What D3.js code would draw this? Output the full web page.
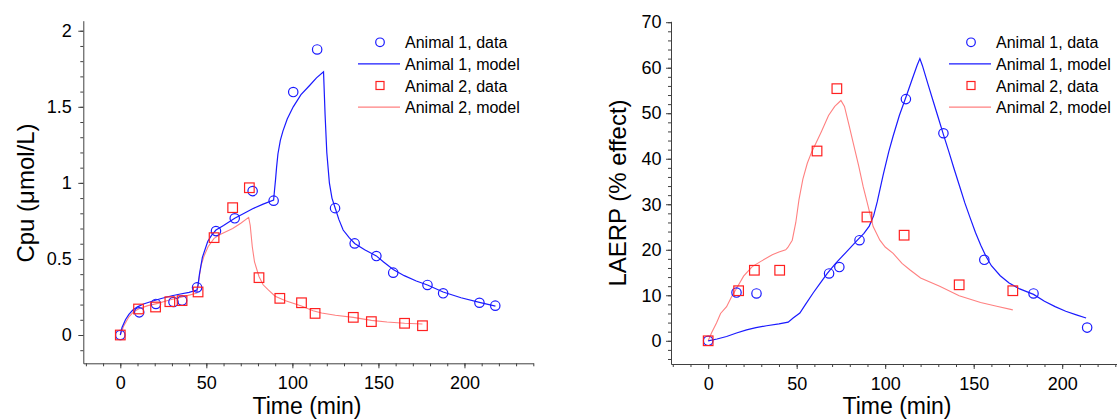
<!DOCTYPE html>
<html>
<head>
<meta charset="utf-8">
<script src="https://cdn.jsdelivr.net/npm/d3@7"></script>
<style>
  html, body { margin: 0; padding: 0; background: #fff; }
  svg { display: block; font-family: "Liberation Sans", Arial, sans-serif; }
</style>
</head>
<body>
<div id="chart"></div>
<script>
// -------------------------------------
// Cpu and LAERP vs time, two animals
// data points + model curves
// -------------------------------------

const timeTicks  = [0, 50, 100, 150, 200];
const timeMinor  = d3.range(-20, 241, 10);
const cpuTicks   = [0, 0.5, 1, 1.5, 2];
const cpuMinor   = d3.range(-0.1, 2.05, 0.1);
const laerpTicks = [0, 10, 20, 30, 40, 50, 60, 70];
const laerpMinor = d3.range(-4, 70.1, 2);

const legendLabels = ["Animal 1, data", "Animal 1, model", "Animal 2, data", "Animal 2, model"];

// Cpu (µmol/L) — animal 1
const cpuData1 = [
  [0, 0], [11, 0.149], [20.7, 0.204], [30.9, 0.217], [35.9, 0.226], [44.6, 0.313],
  [55.6, 0.683], [66.5, 0.767], [76.9, 0.946], [89.1, 0.883], [100.5, 1.597],
  [114.4, 1.877], [124.8, 0.834], [136.2, 0.602], [148.8, 0.519], [158.6, 0.41],
  [178.5, 0.329], [187.6, 0.274], [208.7, 0.212], [217.9, 0.193]
];
const cpuModel1 = [
  [0, 0], [1, 0.05], [3, 0.1], [5, 0.135], [7.3, 0.164], [10, 0.185], [13.5, 0.204],
  [18, 0.22], [23.8, 0.24], [30, 0.258], [34.2, 0.268], [40, 0.28], [44.5, 0.296],
  [45.2, 0.33], [46, 0.4], [47.7, 0.51], [50.8, 0.615], [53, 0.655], [55.6, 0.69],
  [60, 0.72], [66.5, 0.767], [72, 0.8], [76.9, 0.83], [83, 0.86], [89.1, 0.887],
  [89.6, 0.95], [90.2, 1.02], [90.8, 1.1], [91.6, 1.19], [93, 1.28], [94.5, 1.34],
  [97, 1.42], [100.5, 1.5], [105, 1.58], [110, 1.64], [114, 1.69], [118.1, 1.73],
  [119, 1.45], [120, 1.2], [121.5, 1.0], [123, 0.9], [125, 0.83], [127, 0.76],
  [129.5, 0.69], [133, 0.64], [136.2, 0.602], [142, 0.56], [148.8, 0.52], [153, 0.48],
  [158.6, 0.43], [165, 0.39], [172, 0.355], [178.5, 0.329], [187.6, 0.283],
  [198, 0.245], [208.7, 0.215], [218, 0.19]
];

// Cpu (µmol/L) — animal 2
const cpuData2 = [
  [0, 0], [10.6, 0.171], [20.5, 0.184], [28.8, 0.219], [35.9, 0.226], [45.2, 0.283],
  [54.5, 0.64], [65.3, 0.837], [75, 0.968], [80.6, 0.377], [92.7, 0.241],
  [105.3, 0.212], [113.2, 0.142], [135.4, 0.116], [145.9, 0.088], [165.2, 0.077],
  [175.6, 0.061]
];
const cpuModel2 = [
  [0, 0], [2, 0.06], [5, 0.12], [8, 0.155], [11.4, 0.175], [16, 0.193], [21.8, 0.208],
  [28, 0.228], [34.2, 0.245], [40, 0.262], [44.5, 0.275], [45.6, 0.36], [47, 0.46],
  [48.7, 0.52], [51, 0.58], [54.5, 0.635], [58, 0.66], [65.3, 0.7], [70, 0.735],
  [74.6, 0.773], [75.5, 0.72], [76.7, 0.58], [78, 0.48], [80.6, 0.385], [83, 0.33],
  [86, 0.296], [90, 0.255], [96, 0.225], [105.3, 0.19], [112, 0.16], [117, 0.145],
  [125, 0.13], [135.4, 0.116], [145.9, 0.096], [155, 0.085], [165.2, 0.077],
  [175.6, 0.072]
];

// LAERP (% effect) — animal 1
const laerpData1 = [
  [0, 0], [16, 10.6], [27.3, 10.4], [68.3, 14.8], [74.1, 16.2], [85.5, 22.1],
  [111.7, 53.1], [132.9, 45.6], [156, 17.8], [183.8, 10.4], [214.1, 2.9]
];
const laerpModel1 = [
  [0, 0], [5, 0.4], [10.4, 0.95], [16, 1.7], [21.7, 2.4], [27, 2.9], [33, 3.3],
  [40, 3.7], [45.2, 4.1], [48, 5.0], [51.8, 6.1], [55, 8], [59.3, 10.5], [63, 12.5],
  [67.3, 14.8], [72, 17], [78, 19.5], [84.3, 22.1], [88, 23.6], [91, 25.2],
  [93.5, 27.5], [95.5, 30.5], [98.9, 36.5], [102, 41.5], [104.5, 45], [108, 49.5],
  [111.5, 53.3], [115, 57.2], [118, 60.5], [119.6, 62], [121, 60.5], [124, 56.6],
  [127, 52.8], [130, 49], [133, 45.2], [136, 41.5], [139, 37.7], [142, 34],
  [145, 30.3], [148, 27], [151, 23.8], [154, 21], [157, 18.5], [160, 16.5],
  [165, 14.3], [170, 12.7], [176, 11.4], [183.8, 10.2], [190, 8.7], [196, 7.5],
  [202, 6.5], [208, 5.7], [213.5, 5.0]
];

// LAERP (% effect) — animal 2
const laerpData2 = [
  [0, 0], [17.2, 11.0], [26.1, 15.5], [40.4, 15.5], [61.5, 41.7], [72.7, 55.4],
  [89.7, 27.2], [110.7, 23.2], [141.8, 12.3], [172.1, 11.0]
];
const laerpModel2 = [
  [0, 0], [2, 1.8], [4.7, 3.9], [7, 6], [10.4, 7.5], [13, 9.5], [16, 11.5],
  [20, 14.2], [24.9, 16.3], [30, 17.5], [36.2, 18.9], [40, 19.5], [43.8, 20.0],
  [45, 20.5], [47.5, 22.1], [49.5, 26], [51.3, 31], [53.5, 35.5], [56, 39],
  [58.5, 41.5], [61, 43.5], [64, 46], [68, 49.5], [71.5, 51.5], [75, 52.8],
  [77, 51.5], [79.5, 47.5], [82, 43.4], [85, 38.5], [87.6, 33.8], [89.5, 30.9],
  [93.2, 25.1], [97, 22.1], [100, 20.6], [104.5, 19.2], [109.5, 17], [113.9, 15.6],
  [120, 13.8], [130.8, 12.0], [141.8, 9.9], [153.9, 8.4], [163, 7.6], [172.1, 6.8]
];

const BLUE = "#1a1aff";
const RED = "#ff2020";
const RED_LINE = "#ff8080";
const AXIS = "#404040";

const svg = d3.select("#chart").append("svg")
  .attr("width", 1117)
  .attr("height", 419);

// ------------------------------
// Panel builder
// ------------------------------
function drawPanel(opt) {
  const x = d3.scaleLinear().domain(opt.xDomain).range(opt.xRange);
  const y = d3.scaleLinear().domain(opt.yDomain).range(opt.yRange);
  const g = svg.append("g");

  const xAxisY = opt.yRange[0];
  const yAxisX = opt.xRange[0];

  // minor ticks
  g.append("g")
    .attr("transform", `translate(0,${xAxisY})`)
    .call(d3.axisBottom(x).tickValues(timeMinor.filter(v => v >= opt.xDomain[0] && v <= opt.xDomain[1]))
      .tickSize(3).tickSizeOuter(0).tickFormat(""))
    .call(a => a.select(".domain").remove());

  g.append("g")
    .attr("transform", `translate(${yAxisX},0)`)
    .call(d3.axisLeft(y).tickValues(opt.yMinor).tickSize(3).tickSizeOuter(0).tickFormat(""))
    .call(a => a.select(".domain").remove());

  // major axes
  const xa = g.append("g")
    .attr("transform", `translate(0,${xAxisY})`)
    .call(d3.axisBottom(x).tickValues(timeTicks).tickSize(5).tickSizeOuter(0).tickPadding(8));

  const ya = g.append("g")
    .attr("transform", `translate(${yAxisX},0)`)
    .call(d3.axisLeft(y).tickValues(opt.yTicks).tickSize(5).tickSizeOuter(0)
      .tickPadding(opt.yPad).tickFormat(d => String(d)));

  [xa, ya].forEach(a => {
    a.select(".domain").attr("stroke", AXIS);
    a.selectAll("text").attr("font-size", 18).attr("fill", "#000")
      .attr("font-family", "Liberation Sans, Arial, sans-serif");
  });
  g.selectAll(".tick line").attr("stroke", AXIS);

  // axis titles
  g.append("text")
    .attr("x", opt.xTitleX)
    .attr("y", 414)
    .attr("text-anchor", "middle")
    .attr("font-size", 23)
    .text("Time (min)");

  g.append("text")
    .attr("transform", `translate(${opt.yTitleX},193) rotate(-90)`)
    .attr("text-anchor", "middle")
    .attr("font-size", 24)
    .text(opt.yTitle);

  // model lines
  const line = d3.line().x(d => x(d[0])).y(d => y(d[1]));

  g.append("path")
    .datum(opt.model2)
    .attr("fill", "none")
    .attr("stroke", RED_LINE)
    .attr("stroke-width", 1.1)
    .attr("d", line);

  g.append("path")
    .datum(opt.model1)
    .attr("fill", "none")
    .attr("stroke", BLUE)
    .attr("stroke-width", 1.2)
    .attr("d", line);

  // data markers
  g.selectAll("circle.d1")
    .data(opt.data1)
    .enter()
    .append("circle")
    .attr("class", "d1")
    .attr("cx", d => x(d[0]))
    .attr("cy", d => y(d[1]))
    .attr("r", 4.7)
    .attr("fill", "none")
    .attr("stroke", BLUE)
    .attr("stroke-width", 1.2);

  const s = 9.6;
  g.selectAll("rect.d2")
    .data(opt.data2)
    .enter()
    .append("rect")
    .attr("class", "d2")
    .attr("x", d => x(d[0]) - s / 2)
    .attr("y", d => y(d[1]) - s / 2)
    .attr("width", s)
    .attr("height", s)
    .attr("fill", "none")
    .attr("stroke", RED)
    .attr("stroke-width", 1.2);

  // legend
  const lg = g.append("g").attr("transform", `translate(${opt.legendX},0)`);
  legendLabels.forEach((lab, i) => {
    const ry = 42.3 + i * 21.6;
    if (i === 0) {
      lg.append("circle").attr("cx", -25).attr("cy", ry).attr("r", 4.3)
        .attr("fill", "none").attr("stroke", BLUE).attr("stroke-width", 1.2);
    } else if (i === 2) {
      lg.append("rect").attr("x", -29).attr("y", ry - 4).attr("width", 8).attr("height", 8)
        .attr("fill", "none").attr("stroke", RED).attr("stroke-width", 1.2);
    } else {
      lg.append("line").attr("x1", -47).attr("x2", -5).attr("y1", ry).attr("y2", ry)
        .attr("stroke", i === 1 ? BLUE : RED_LINE).attr("stroke-width", i === 1 ? 1.2 : 1.1);
    }
    lg.append("text")
      .attr("x", 0)
      .attr("y", ry + 6)
      .attr("font-size", 16)
      .text(lab);
  });
}

drawPanel({
  xDomain: [-21.5, 240], xRange: [83.3, 533.3],
  yDomain: [-0.186, 2.066], yRange: [363.3, 20.7],
  yTicks: cpuTicks, yMinor: cpuMinor, yPad: 6.5,
  yTitle: "Cpu (\u03bcmol/L)", yTitleX: 34, xTitleX: 307,
  data1: cpuData1, model1: cpuModel1, data2: cpuData2, model2: cpuModel2,
  legendX: 405
});

drawPanel({
  xDomain: [-21, 240], xRange: [671, 1133],
  yDomain: [-5.1, 70.2], yRange: [364, 21.3],
  yTicks: laerpTicks, yMinor: laerpMinor, yPad: 4.5,
  yTitle: "LAERP (% effect)", yTitleX: 626, xTitleX: 897,
  data1: laerpData1, model1: laerpModel1, data2: laerpData2, model2: laerpModel2,
  legendX: 996
});
</script>
</body>
</html>
